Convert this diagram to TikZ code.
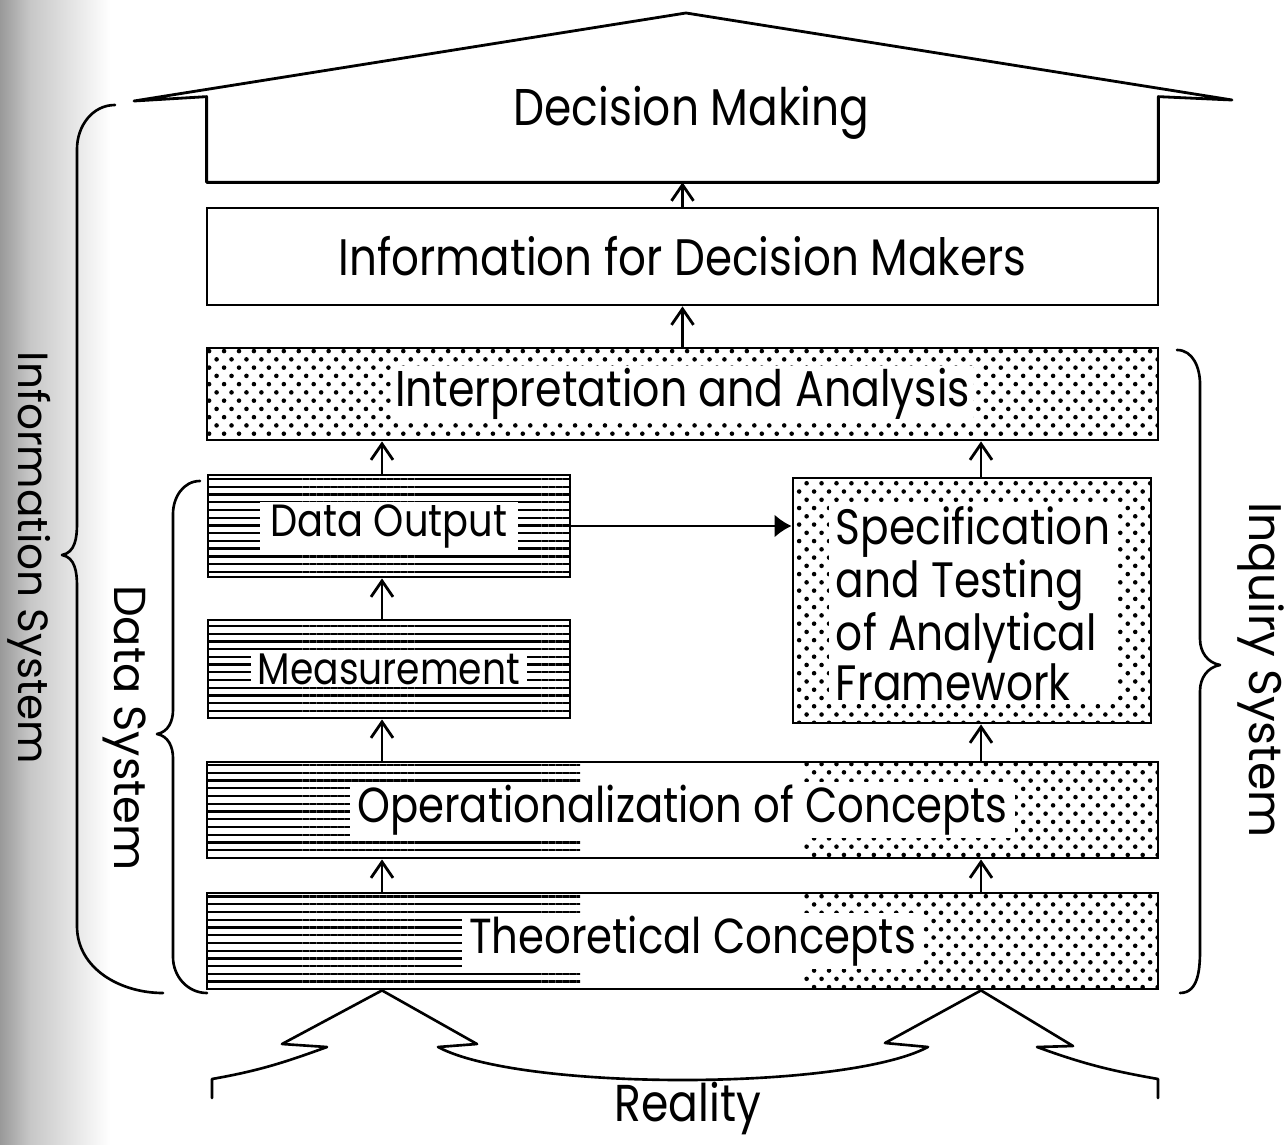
\documentclass[tikz,border=0pt]{standalone}
\usepackage{fontspec}
\setmainfont{Poppins}[FakeStretch=0.85]
\newfontfamily\sidefont{Poppins}
\usetikzlibrary{arrows.meta,patterns.meta}

% staggered dot screen and horizontal ruling
\tikzdeclarepattern{
  name=stipple,
  type=uncolored,
  bottom left={(-1.4pt,-1.4pt)},
  top right={(7.1pt,8.0pt)},
  tile size={(8.5pt,9.4pt)},
  code={
    \fill (0pt,0pt) circle (1.3pt);
    \fill (4.25pt,4.7pt) circle (1.3pt);
  }
}
\tikzdeclarepattern{
  name=ruling,
  type=uncolored,
  bottom left={(0pt,-1pt)},
  top right={(4pt,3.4pt)},
  tile size={(4pt,4.4pt)},
  code={
    \draw[line width=1.3pt] (-0.1pt,0pt) -- (4.1pt,0pt);
  }
}

\begin{document}
\begin{tikzpicture}[
    every node/.style={font=\fontsize{28}{34}\selectfont},
    box/.style={draw, line width=1.6pt, minimum width=19.02cm, inner sep=0pt},
    half/.style={draw, line width=1.6pt, minimum width=7.24cm, inner sep=0pt},
    tag/.style={fill=white, inner xsep=4pt, inner ysep=1.5pt},
    side/.style={rotate=-90, font=\sidefont\fontsize{#1}{28}\selectfont},
    up/.style={-{Straight Barb[length=3.2mm,width=4.4mm]}, line width=1.6pt},
    brace/.style={line width=1.5pt, line cap=round, line join=round}
  ]
    \useasboundingbox (0,0) rectangle (25.76,22.88);
    \shade[left color=black!40, right color=black!22] (0,0) rectangle (0.6,22.88);
    \shade[left color=black!22, right color=white] (0.6,0) rectangle (2.2,22.88);

    % column positions of the vertical flows
    \coordinate (lcol) at (7.64,0);
    \coordinate (rcol) at (19.62,0);

    % Decision making, drawn as a roof
    \node[minimum width=19.02cm, minimum height=1.7cm, inner sep=0pt] (decide) at (13.65,20.09) {};
    \draw[line width=1.6pt, line join=round] (2.68,20.86) -- (decide.north west) -- (decide.south west)
        -- (decide.south east) -- (decide.north east) -- (24.64,20.88) -- (13.72,22.62) -- cycle;
    \node[font=\fontsize{29.4}{34}\selectfont] (decide-t) at (13.83,20.62) {Decision Making};

    % Information
    \node[box, minimum height=1.94cm, font=\fontsize{29.2}{34}\selectfont] (info) at (13.65,17.75) {Information for Decision Makers};

    % Interpretation
    \node[box, minimum height=1.84cm, pattern=stipple] (interp) at (13.65,15.0) {};
    \node[tag, inner xsep=2pt, font=\fontsize{28.6}{34}\selectfont] (interp-t) at (interp) {Interpretation and Analysis};

    % Data system boxes
    \node[half, minimum height=2.04cm, pattern=ruling] (dataout) at (7.78,12.36) {};
    \node[tag, inner xsep=6pt, font=\fontsize{25.7}{30}\selectfont] (dataout-t) at (dataout) {Data Output};
    \node[half, minimum height=1.96cm, pattern=ruling] (measure) at (7.78,9.5) {};
    \node[tag, font=\fontsize{25.2}{30}\selectfont] (measure-t) at (measure) {Measurement};

    % Inquiry system box
    \node[draw, line width=1.6pt, minimum width=7.16cm, minimum height=4.9cm, inner sep=0pt, pattern=stipple] (spec) at (19.44,10.87) {};
    \node[tag, align=left, font=\fontsize{28.3}{28.5}\selectfont] (spec-t) at (19.46,10.8) {Specification\\and Testing\\of Analytical\\Framework};

    % shared boxes, half ruled and half dotted
    \path[pattern=ruling] (4.14,5.72) rectangle (11.6,7.64);
    \path[pattern=stipple] (16.06,5.72) rectangle (23.16,7.64);
    \path[pattern=ruling] (4.14,3.10) rectangle (11.6,5.02);
    \path[pattern=stipple] (16.06,3.10) rectangle (23.16,5.02);
    \node[box, minimum height=1.92cm] (oper) at (13.65,6.68) {};
    \node[tag] (oper-t) at (oper) {Operationalization of Concepts};
    \node[box, minimum height=1.92cm] (theory) at (13.65,4.06) {};
    \node[tag] (theory-t) at (13.85,4.06) {Theoretical Concepts};

    % flows
    \draw[up] (info.north) -- (decide.south);
    \draw[up] (interp.north -| info.north) -- (info.south);
    \draw[up] (lcol |- dataout.north) -- (lcol |- interp.south);
    \draw[up] (lcol |- measure.north) -- (lcol |- dataout.south);
    \draw[up] (lcol |- oper.north) -- (lcol |- measure.south);
    \draw[up] (lcol |- theory.north) -- (lcol |- oper.south);
    \draw[up] (rcol |- spec.north) -- (rcol |- interp.south);
    \draw[up] (rcol |- oper.north) -- (rcol |- spec.south);
    \draw[up] (rcol |- theory.north) -- (rcol |- oper.south);
    \draw[line width=1.4pt, -{Latex[length=3.4mm,width=4.6mm]}] (dataout.east) -- (dataout.east -| spec.west);

    % reality feeding the two columns
    \draw[brace] (4.24,0.92) -- (4.24,1.30) to[out=10,in=200] (6.54,1.94) -- (5.64,2.00)
        -- (lcol |- theory.south) -- (9.54,2.00) -- (8.76,1.94)
        .. controls (10.4,1.06) and (16.9,1.06) .. (18.56,1.94) -- (17.70,2.02)
        -- (rcol |- theory.south) -- (21.46,1.96) -- (20.74,1.94) to[out=-20,in=170] (23.16,1.30) -- (23.16,0.92);
    \node[anchor=base, font=\fontsize{29.5}{34}\selectfont] (reality) at (13.76,0.46) {Reality};

    % braces and their names
    \draw[brace] (2.30,20.78) to[out=180,in=90] (1.54,19.9) -- (1.54,12.4) to[out=-90,in=10] (1.24,11.78)
        to[out=-10,in=90] (1.54,11.16) -- (1.54,4.36) to[out=-90,in=180] (3.26,3.02);
    \node[side=24] (infosys) at (0.58,11.72) {Information System};
    \draw[brace] (4.00,13.26) to[out=180,in=90] (3.46,12.6) -- (3.46,8.68) to[out=-90,in=10] (3.14,8.20)
        to[out=-10,in=90] (3.46,7.72) -- (3.46,3.74) to[out=-90,in=180] (4.14,3.02);
    \node[side=25.5] (datasys) at (2.50,8.32) {Data System};
    \draw[brace] (23.54,15.88) to[out=0,in=90] (24.0,15.2) -- (24.0,10.1) to[out=-90,in=170] (24.4,9.58)
        to[out=190,in=90] (24.0,9.06) -- (24.0,3.9) to[out=-90,in=0] (23.6,3.02);
    \node[side=26] (inqsys) at (25.22,9.48) {Inquiry System};
\end{tikzpicture}
\end{document}
